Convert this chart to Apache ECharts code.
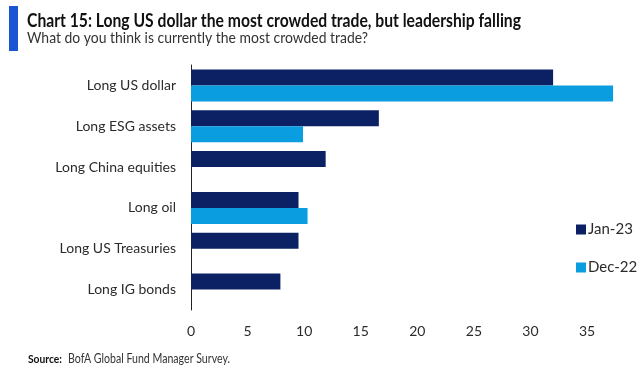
<!DOCTYPE html>
<html>
<head>
<meta charset="utf-8">
<script src="https://cdn.jsdelivr.net/npm/echarts@6/dist/echarts.min.js"></script>
<style>
html,body{margin:0;padding:0;background:#fff;}
#c{width:640px;height:369px;}
</style>
</head>
<body>
<div id="c"></div>
<script>
var categories = ['Long US dollar','Long ESG assets','Long China equities','Long oil','Long US Treasuries','Long IG bonds'];
var seriesNames = ['Jan-23','Dec-22'];
var jan23 = [32, 16.6, 11.9, 9.5, 9.5, 7.9];
var dec22 = [37.3, 9.9, null, 10.3, null, null];
var xTicks = [0, 5, 10, 15, 20, 25, 30, 35];

var titleText = 'Chart 15: Long US dollar the most crowded trade, but leadership falling';
var subtitleText = 'What do you think is currently the most crowded trade?';
var sourceLabel = 'Source:';
var sourceText = 'BofA Global Fund Manager Survey.';

var FONT = 'Lato';
var mctx = document.createElement('canvas').getContext('2d');
function fit(text, weight, size, target){
  mctx.font = weight + ' ' + size + 'px ' + FONT;
  var w = mctx.measureText(text).width;
  return w > 0 ? target / w : 1;
}

var chart = echarts.init(document.getElementById('c'), null, {renderer:'canvas'});
var option = {
  animation: false,
  textStyle: {fontFamily: FONT},
  grid: {left: 191, top: 65, width: 430, height: 245, containLabel: false},
  legend: {
    data: seriesNames,
    orient: 'vertical',
    left: 571, top: 217,
    itemWidth: 10, itemHeight: 10,
    itemGap: 23,
    icon: 'rect',
    textStyle: {fontFamily: FONT, fontSize: 15, color: '#2b2b2b', padding: [0,0,0,-3]}
  },
  xAxis: {
    type: 'value', min: 0, max: 38, interval: 5,
    axisLine: {show: false}, axisTick: {show: false},
    splitLine: {show: false},
    axisLabel: {
      fontFamily: FONT, fontSize: 14, color: '#2b2b2b', margin: 14,
      showMaxLabel: false,
      formatter: function(v){ return xTicks.indexOf(v) >= 0 ? String(v) : ''; }
    }
  },
  yAxis: {
    type: 'category', data: categories, inverse: true,
    axisLine: {show: true, lineStyle: {color: '#222', width: 1}},
    axisTick: {show: false},
    axisLabel: {fontFamily: FONT, fontSize: 14, color: '#2b2b2b', margin: 15}
  },
  series: [
    {name: seriesNames[0], type: 'bar', data: jan23, barWidth: 16, barGap: '0%',
     itemStyle: {color: '#0c2163'}},
    {name: seriesNames[1], type: 'bar', data: dec22, barWidth: 16, barGap: '0%',
     itemStyle: {color: '#0a9de0'}}
  ],
  graphic: [
    {type: 'rect', left: 9, top: 6, shape: {width: 9, height: 45}, style: {fill: '#1a55d4'}},
    {type: 'text', x: 27, y: 21.5, scaleX: fit(titleText, 'bold', 18, 494),
     style: {text: titleText, fontFamily: FONT, fontWeight: 'bold', fontSize: 18, fill: '#111', verticalAlign: 'middle'}},
    {type: 'text', x: 27, y: 37.5, scaleX: fit(subtitleText, 'normal', 16, 341),
     style: {text: subtitleText, fontFamily: FONT, fontSize: 16, fill: '#333', verticalAlign: 'middle'}},
    {type: 'text', x: 28, y: 359, scaleX: fit(sourceLabel, 'bold', 12, 34),
     style: {text: sourceLabel, fontFamily: FONT, fontWeight: 'bold', fontSize: 12, fill: '#111', verticalAlign: 'middle'}},
    {type: 'text', x: 68, y: 359, scaleX: fit(sourceText, 'normal', 12.5, 162),
     style: {text: sourceText, fontFamily: FONT, fontSize: 12.5, fill: '#333', verticalAlign: 'middle'}}
  ]
};
chart.setOption(option);
</script>
</body>
</html>
